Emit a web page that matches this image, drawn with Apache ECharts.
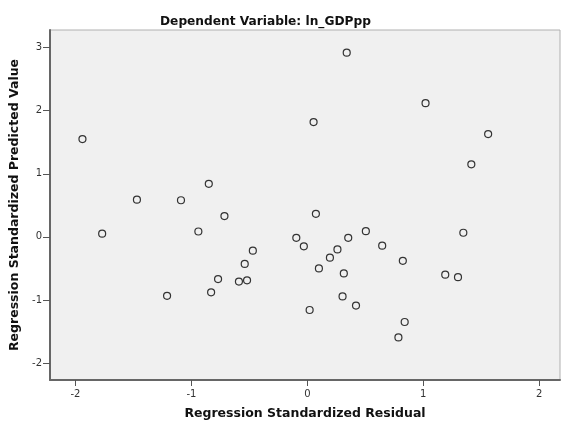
<!DOCTYPE html>
<html>
<head>
<meta charset="utf-8">
<script src="https://cdn.jsdelivr.net/npm/echarts@6/dist/echarts.min.js"></script>
<style>html,body{margin:0;padding:0;background:#fff}#c{width:561px;height:423px}</style>
</head>
<body>
<div id="c"></div>
<script>
var residual = [-1.94,-1.47,-1.09,-0.85,0.34,1.02,0.054,1.56,1.415,-1.77,-0.715,-0.94,-0.47,-0.54,-0.77,-0.59,-0.52,-0.83,-1.21,-0.095,-0.03,0.02,0.074,0.353,0.505,0.26,0.646,0.195,0.10,0.315,0.824,1.346,1.19,1.30,0.304,0.42,0.84,0.786];
var predicted = [1.55,0.59,0.58,0.84,2.92,2.12,1.82,1.63,1.15,0.05,0.33,0.085,-0.22,-0.43,-0.67,-0.71,-0.69,-0.88,-0.935,-0.015,-0.15,-1.16,0.365,-0.015,0.09,-0.20,-0.14,-0.33,-0.50,-0.58,-0.38,0.065,-0.60,-0.64,-0.945,-1.09,-1.35,-1.595];
var xTicks = [-2,-1,0,1,2];
var yTicks = [-2,-1,0,1,2,3];
var titleText = 'Dependent Variable: ln_GDPpp';
var xName = 'Regression Standardized Residual';
var yName = 'Regression Standardized Predicted Value';

var pts = residual.map(function(v,i){return [v,predicted[i]];});
var chart = echarts.init(document.getElementById('c'), null, {renderer:'canvas'});
var font = '"DejaVu Sans", Verdana, sans-serif';
chart.setOption({
  animation:false,
  backgroundColor:'#ffffff',
  title:{text:titleText,left:155,top:11,textStyle:{fontFamily:font,fontSize:12.2,fontWeight:'bold',color:'#111'}},
  grid:{left:50,top:30,right:1,bottom:43,containLabel:false,outerBoundsMode:'none',show:true,backgroundColor:'#f0f0f0',borderColor:'#b0b0b0',borderWidth:1},
  xAxis:{type:'value',min:-2.22,max:2.18,
    name:xName,nameLocation:'middle',nameGap:27,
    nameTextStyle:{fontFamily:font,fontSize:12.5,fontWeight:'bold',color:'#111'},
    axisLine:{show:true,onZero:false,lineStyle:{color:'#666',width:2}},
    axisTick:{show:true,length:6,customValues:xTicks,lineStyle:{color:'#555',width:1}},
    axisLabel:{customValues:xTicks,fontFamily:font,fontSize:10,color:'#333',margin:9},
    splitLine:{show:false}},
  yAxis:{type:'value',min:-2.27,max:3.28,
    name:yName,nameLocation:'middle',nameGap:25,
    nameTextStyle:{fontFamily:font,fontSize:12.5,fontWeight:'bold',color:'#111'},
    axisLine:{show:true,onZero:false,lineStyle:{color:'#666',width:2}},
    axisTick:{show:true,length:7,customValues:yTicks,lineStyle:{color:'#555',width:1}},
    axisLabel:{customValues:yTicks,fontFamily:font,fontSize:10,color:'#333',margin:8},
    splitLine:{show:false}},
  series:[{type:'scatter',data:pts,symbol:'circle',symbolSize:7,
    itemStyle:{color:'rgba(0,0,0,0)',borderColor:'#333',borderWidth:1.2,opacity:1}}]
});
</script>
</body>
</html>
